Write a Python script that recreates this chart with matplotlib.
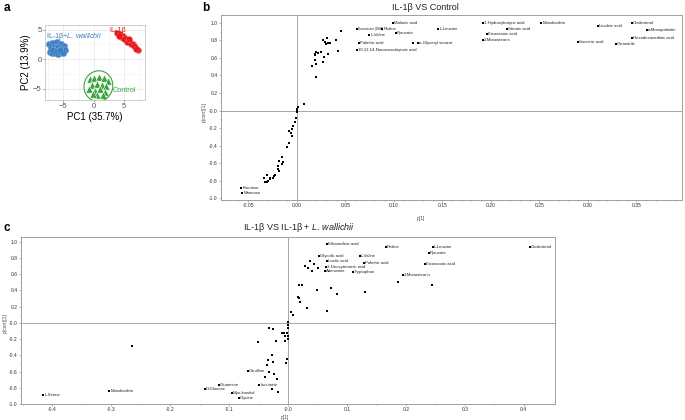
#!/usr/bin/env python3
"""
PCA score plot and two S-plots (p[1] vs p(corr)[1]).
"""

import matplotlib
matplotlib.use("Agg")
import matplotlib.pyplot as plt
import numpy as np
from matplotlib.patches import Ellipse

plt.rcParams['font.family'] = ['Liberation Sans', 'DejaVu Sans']
plt.rcParams['mathtext.fontset'] = 'custom'
plt.rcParams['mathtext.rm'] = 'Liberation Sans'
plt.rcParams['mathtext.it'] = 'Liberation Sans:italic'

W, H = 685, 420

# ---- panel a: PCA scores ----
wal_x = [-7.3, -6.9, -6.5, -6.1, -5.7, -5.3, -4.9, -7.0, -6.6, -6.2, -5.8, -5.4,
         -5.0, -4.7, -7.2, -6.8, -6.3, -5.9, -5.5, -5.1, -6.7, -6.0, -5.6]
wal_y = [2.6, 2.8, 2.7, 2.9, 2.6, 2.5, 2.3, 1.9, 2.0, 1.8, 2.1, 1.9,
         1.7, 1.5, 1.2, 1.0, 1.1, 0.9, 1.2, 1.0, 1.5, 1.4, 1.6]
il_x = [3.8, 4.3, 4.8, 5.2, 5.6, 6.0, 6.4, 6.8, 7.2, 4.5, 5.0, 5.5, 6.1, 6.6, 7.0, 4.1, 5.8]
il_y = [4.4, 4.2, 3.9, 3.6, 3.2, 2.9, 2.5, 2.1, 1.6, 3.7, 3.4, 3.0, 2.6, 2.2, 1.8, 3.9, 3.5]
ctl_x = [-0.6, 0.1, 0.9, 1.7, 2.3, -0.3, 0.5, 1.3, 2.0, -0.8, 0.2, 1.1, 1.8, 0.6, -0.2, 1.5]
ctl_y = [-3.4, -3.1, -3.0, -3.2, -3.7, -4.4, -4.2, -4.3, -4.6, -5.0, -5.3, -5.0, -5.5, -6.0, -5.9, -6.1]

# ---- panel b: IL-1b vs Control ----
b_names = ['Malonic acid', 'Doconexent (DHA)', 'Proline', 'L-Valine', 'Pyruvate',
           'Palmitic acid', 'α-Glyceryl stearat', '10,12,14-Nonacosatriynoic acid',
           'L-Leucine', '3-Hydroxybutyric acid', 'Stearic acid', 'Eicosanoic acid',
           '2-Monostearin', 'Monolinolein', 'Linoleic acid', 'Cholesterol',
           'α-Monopalmitin', 'Hexadecanedioic acid', 'Succinic acid', 'Oleanitrile',
           'Fructose', 'Mannose']
b_lab_x = [0.099, 0.062, 0.088, 0.075, 0.102, 0.064, 0.125, 0.062, 0.146, 0.192, 0.217,
           0.196, 0.192, 0.252, 0.310, 0.345, 0.361, 0.345, 0.290, 0.329, -0.057, -0.056]
b_lab_y = [1.00, 0.936, 0.936, 0.864, 0.886, 0.773, 0.773, 0.693, 0.936, 1.00, 0.936,
           0.875, 0.807, 1.00, 0.966, 1.00, 0.92, 0.83, 0.784, 0.761, -0.886, -0.94]
b_x = [0.046, 0.027, 0.029, 0.031, 0.032, 0.034, 0.030, 0.040, 0.043, 0.020, 0.019,
       0.019, 0.022, 0.025, 0.032, 0.028, 0.019, 0.016, 0.020, 0.027, 0.020, 0.120,
       0.008, 0.001, 0.0, 0.0, 0.0, -0.001, -0.002, -0.004, -0.005, -0.006, -0.005,
       -0.008, -0.008, -0.010, -0.015, -0.018, -0.014, -0.015, -0.019, -0.019, -0.018,
       -0.022, -0.023, -0.024, -0.027, -0.028, -0.030, -0.031, -0.031, -0.033, -0.034]
b_y = [0.91, 0.81, 0.78, 0.83, 0.77, 0.77, 0.76, 0.80, 0.68, 0.67, 0.65,
       0.63, 0.66, 0.67, 0.64, 0.61, 0.58, 0.51, 0.53, 0.55, 0.38, 0.773,
       0.08, 0.045, 0.02, 0.0, -0.02, -0.09, -0.125, -0.18, -0.215, -0.26, -0.285,
       -0.23, -0.375, -0.41, -0.535, -0.57, -0.59, -0.615, -0.635, -0.67, -0.69,
       -0.74, -0.75, -0.77, -0.78, -0.77, -0.80, -0.74, -0.82, -0.82, -0.77]

# ---- panel c: IL-1b vs IL-1b + L. wallichii ----
c_names = ['Ethanedioic acid', 'Proline', 'L-Leucine', 'Pyruvate', 'Glycolic acid',
           'L-Valine', 'Lactic acid', 'Palmitic acid', '3-Deoxytetronic acid',
           'Eicosanoic acid', 'Adenosine', 'Tryptophan', '2-Monostearin', 'Cholesterol',
           'L-Serine', 'Monolinolein', 'Glutamine', 'D-Glucose', 'Myo-Inositol',
           'Glycine', 'Citrulline', 'Isocitrate']
c_lab_x = [0.066, 0.166, 0.246, 0.239, 0.053, 0.122, 0.066, 0.129, 0.064, 0.232, 0.063,
           0.110, 0.195, 0.41, -0.415, -0.303, -0.117, -0.141, -0.095, -0.083, -0.068, -0.049]
c_lab_y = [0.97, 0.93, 0.93, 0.86, 0.82, 0.82, 0.76, 0.74, 0.69, 0.72, 0.64,
           0.63, 0.59, 0.93, -0.89, -0.84, -0.76, -0.82, -0.87, -0.93, -0.59, -0.76]
c_x = [0.037, 0.029, 0.034, 0.041, 0.051, 0.044, 0.187, 0.244, 0.019, 0.024, 0.073,
       0.049, 0.083, 0.131, 0.017, 0.019, 0.020, 0.032, 0.005, 0.066, 0.008, 0.0,
       0.0, 0.0, -0.032, -0.026, -0.010, -0.007, -0.005, -0.002, 0.0, 0.0, -0.005,
       -0.021, -0.051, -0.027, -0.034, -0.026, -0.002, -0.003, -0.036, -0.032, -0.024,
       -0.039, -0.019, -0.027, -0.017, -0.264]
c_y = [0.76, 0.70, 0.68, 0.64, 0.68, 0.72, 0.50, 0.47, 0.46, 0.46, 0.43,
       0.40, 0.36, 0.38, 0.32, 0.31, 0.26, 0.18, 0.13, 0.14, 0.09, 0.01,
       -0.03, -0.07, -0.07, -0.08, -0.13, -0.12, -0.16, -0.13, -0.16, -0.2, -0.23,
       -0.23, -0.24, -0.40, -0.46, -0.48, -0.45, -0.50, -0.52, -0.61, -0.63,
       -0.67, -0.69, -0.82, -0.85, -0.29]

# labels squeezed between neighbours get a smaller font
TIGHT = {'Doconexent (DHA)': 2.2}


def box(l, t, r, b):
    """pixel box -> figure rect"""
    return [l / W, 1 - b / H, (r - l) / W, (b - t) / H]


def ftxt(fig, x, y, s, **kw):
    fig.text(x / W, 1 - y / H, s, **kw)


def conf_ellipse(ax, xs, ys, color, scale=2.45, **kw):
    xs, ys = np.asarray(xs), np.asarray(ys)
    cov = np.cov(xs, ys)
    vals, vecs = np.linalg.eigh(cov)
    ang = np.degrees(np.arctan2(vecs[1, 1], vecs[0, 1]))
    e = Ellipse((xs.mean(), ys.mean()), 2 * scale * np.sqrt(vals[1]),
                2 * scale * np.sqrt(vals[0]), angle=ang, fill=False,
                edgecolor=color, **kw)
    ax.add_patch(e)


def splot_style(ax, xmaj, xlabels, xminor, ylim):
    ax.set_ylim(*ylim)
    yt = np.round(np.arange(-1.0, 1.01, 0.2), 1)
    ax.set_yticks(yt)
    ax.set_yticklabels(['-0.0' if v == 0 else f'{v:.1f}' for v in yt])
    ax.set_yticks(np.round(np.arange(-0.9, 1.0, 0.2), 1), minor=True)
    ax.set_xticks(xmaj)
    ax.set_xticklabels(xlabels)
    ax.set_xticks(xminor, minor=True)
    ax.tick_params(which='both', labelsize=3.6, length=1.5, width=0.4,
                   color='#777777', labelcolor='#333333', pad=1)
    ax.tick_params(which='minor', length=1.0)
    for s in ax.spines.values():
        s.set_color('#a0a0a0')
        s.set_linewidth(0.7)
    ax.axhline(0, color='#999999', lw=0.6, zorder=1)
    ax.axvline(0, color='#999999', lw=0.6, zorder=1)


def labeled(ax, xs, ys, names):
    ax.scatter(xs, ys, s=1.2, marker='s', color='black', lw=0, zorder=3)
    for x, y, n in zip(xs, ys, names):
        ax.annotate(n, (x, y), xytext=(0.8, 0), textcoords='offset points',
                    fontsize=TIGHT.get(n, 3.1), va='center', ha='left',
                    color='#222222')


def main():
    fig = plt.figure(figsize=(W / 100, H / 100), dpi=100)

    # ---------- a ----------
    ax = fig.add_axes(box(45, 25, 145, 100))
    ax.set_xlim(-8.0, 8.4)
    ax.set_ylim(-6.9, 5.8)
    ax.set_xticks([-5, 0, 5])
    ax.set_yticks([-5, 0, 5])
    ax.set_xticks([-7.5, -2.5, 2.5, 7.5], minor=True)
    ax.set_yticks([-2.5, 2.5], minor=True)
    ax.grid(True, which='major', color='#e6e6e6', lw=0.5)
    ax.grid(True, which='minor', color='#f2f2f2', lw=0.4)
    ax.set_axisbelow(True)
    ax.tick_params(which='both', labelsize=5.5, length=1.5, width=0.4,
                   color='#555555', labelcolor='#555555', pad=1)
    ax.tick_params(which='minor', length=0)
    for s in ax.spines.values():
        s.set_color('#bbbbbb')
        s.set_linewidth(0.5)
    blue, red, green = '#3a7fc1', '#e41a1c', '#3aa43a'
    ax.scatter(wal_x, wal_y, s=22, color=blue, edgecolor='#8fb7dd', lw=0.3, zorder=3)
    ax.scatter(il_x, il_y, s=20, facecolor=red, edgecolor='#ff9999', lw=0.3, zorder=3)
    ax.scatter(ctl_x, ctl_y, s=28, marker='^', color=green, edgecolor='white', lw=0.4, zorder=3)
    conf_ellipse(ax, wal_x, wal_y, blue, scale=1.6, lw=0.6, zorder=4)
    conf_ellipse(ax, il_x, il_y, red, scale=2.0, lw=0.6, zorder=4)
    conf_ellipse(ax, il_x, il_y, red, scale=1.6, lw=0.4, zorder=4)
    conf_ellipse(ax, ctl_x, ctl_y, green, scale=2.45, lw=0.8, zorder=4)
    ax.text(-7.8, 3.8, r'IL-1β+$\mathit{L.\,wallichii}$', color=blue, fontsize=5.2,
            ha='left', va='center')
    ax.text(2.6, 4.9, 'IL-1β', color=red, fontsize=5.2, ha='left', va='center')
    ax.text(3.1, -5.3, 'Control', color=green, fontsize=5.2, ha='left', va='center')
    ax.set_xlabel('PC1 (35.7%)', fontsize=7, labelpad=1)
    ax.set_ylabel('PC2 (13.9%)', fontsize=7, labelpad=1)

    # ---------- b ----------
    ax = fig.add_axes(box(221, 15, 682, 200))
    ax.set_xlim(-0.078, 0.397)
    xt = np.round(np.arange(-0.05, 0.351, 0.05), 2)
    splot_style(ax, xt, [f'{v:.2f}' for v in xt],
                np.round(np.arange(-0.07, 0.40, 0.01), 2), (-1.02, 1.09))
    ax.scatter(b_x, b_y, s=1.2, marker='s', color='black', lw=0, zorder=3)
    labeled(ax, b_lab_x, b_lab_y, b_names)
    ftxt(fig, 425, 7, 'IL-1β VS Control', fontsize=6.5, ha='center', va='center',
         color='#222222')
    ftxt(fig, 421, 218, 'p[1]', fontsize=3.4, ha='center', va='center', color='#444444')
    ftxt(fig, 204, 112, 'p(corr)[1]', fontsize=3.4, ha='center', va='center',
         rotation=90, color='#444444')

    # ---------- c ----------
    ax = fig.add_axes(box(21, 237, 555, 404))
    ax.set_xlim(-0.453, 0.453)
    xt = np.round(np.arange(-0.4, 0.41, 0.1), 1)
    splot_style(ax, xt, ['-0.0' if v == 0 else f'{v:.1f}' for v in xt],
                np.round(np.arange(-0.45, 0.46, 0.05), 2), (-1.0, 1.056))
    ax.scatter(c_x, c_y, s=1.2, marker='s', color='black', lw=0, zorder=3)
    labeled(ax, c_lab_x, c_lab_y, c_names)
    ftxt(fig, 243, 228, r'IL-1β VS IL-1β + $\mathit{L.\,wallichii}$', fontsize=6.5,
         ha='left', va='center', color='#222222')
    ftxt(fig, 285, 417, 'p[1]', fontsize=3.4, ha='center', va='center', color='#444444')
    ftxt(fig, 5, 323, 'p(corr)[1]', fontsize=3.4, ha='center', va='center',
         rotation=90, color='#444444')

    # panel letters
    ftxt(fig, 4, 8, 'a', fontsize=8.5, fontweight='bold', ha='left', va='center')
    ftxt(fig, 202, 8, 'b', fontsize=8.5, fontweight='bold', ha='left', va='center')
    ftxt(fig, 4, 228, 'c', fontsize=8.5, fontweight='bold', ha='left', va='center')

    fig.savefig('out.png', dpi=100)
    plt.close(fig)


if __name__ == "__main__":
    main()
